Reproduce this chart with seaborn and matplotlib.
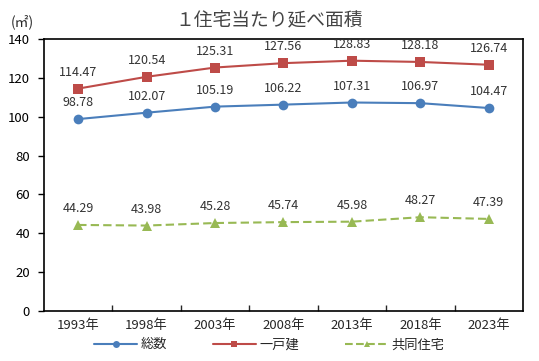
import matplotlib
matplotlib.use("Agg")
import matplotlib.pyplot as plt
import seaborn as sns
import pandas as pd
from matplotlib.ticker import FixedLocator
from matplotlib.lines import Line2D

years = ["1993年", "1998年", "2003年", "2008年", "2013年", "2018年", "2023年"]
total = [98.78, 102.07, 105.19, 106.22, 107.31, 106.97, 104.47]
detached = [114.47, 120.54, 125.31, 127.56, 128.83, 128.18, 126.74]
apartment = [44.29, 43.98, 45.28, 45.74, 45.98, 48.27, 47.39]
series_names = ["総数", "一戸建", "共同住宅"]

sns.set_theme(style="white")
fams = ["Noto Sans CJK JP", "DejaVu Sans"]
plt.rcParams["font.family"] = fams

df = pd.DataFrame({
    "year": years * 3,
    "value": total + detached + apartment,
    "series": [series_names[0]] * 7 + [series_names[1]] * 7 + [series_names[2]] * 7,
})

colors = {"総数": "#4a7ebb", "一戸建": "#be4b48", "共同住宅": "#98b954"}
markers = {"総数": "o", "一戸建": "s", "共同住宅": "^"}
dashes = {"総数": "", "一戸建": "", "共同住宅": (4, 2)}

fig = plt.figure(figsize=(5.39, 3.61), dpi=100)
ax = fig.add_axes([0.0816, 0.1385, 0.8887, 0.7535])
sns.lineplot(data=df, x="year", y="value", hue="series", style="series",
             palette=colors, markers=markers, dashes=dashes, markersize=7,
             markeredgewidth=0, linewidth=1.5, ax=ax, legend=False, sort=False)

for vals in [total, detached, apartment]:
    for i, v in enumerate(vals):
        ax.annotate(f"{v:.2f}", (i, v), xytext=(0, 7), textcoords="offset points",
                    ha="center", va="bottom", fontsize=9, color="#333333")

ax.set_ylim(0, 140)
ax.set_xlim(-0.5, 6.5)
ax.set_yticks(range(0, 141, 20))
ax.set_xlabel("")
ax.set_ylabel("")
for s in ax.spines.values():
    s.set_color("black")
    s.set_linewidth(1.2)
ax.tick_params(axis="y", which="major", direction="out", length=4, width=1,
               labelsize=9.5, colors="black", left=True, pad=6)
ax.tick_params(axis="x", which="major", length=0, labelsize=9.5, pad=6)
ax.xaxis.set_minor_locator(FixedLocator([0.5, 1.5, 2.5, 3.5, 4.5, 5.5]))
ax.tick_params(axis="x", which="minor", direction="in", length=4, width=1, bottom=True)

fig.text(0.5, 0.943, "１住宅当たり延べ面積", ha="center", va="center",
         fontsize=13.5, color="#444444")
fig.text(0.02, 0.94, "(㎡)", ha="left", va="center", fontsize=10)

handles = [Line2D([], [], color=colors[n], marker=markers[n], markersize=5,
                  markeredgewidth=0, linewidth=1.5,
                  linestyle="--" if n == "共同住宅" else "-") for n in series_names]
fig.legend(handles, series_names, loc="center", bbox_to_anchor=(0.5, 0.045), ncol=3,
           frameon=False, prop={"size": 9.5}, handlelength=3.2,
           columnspacing=3.5, handletextpad=0.3)

fig.savefig("out.png", dpi=100)
